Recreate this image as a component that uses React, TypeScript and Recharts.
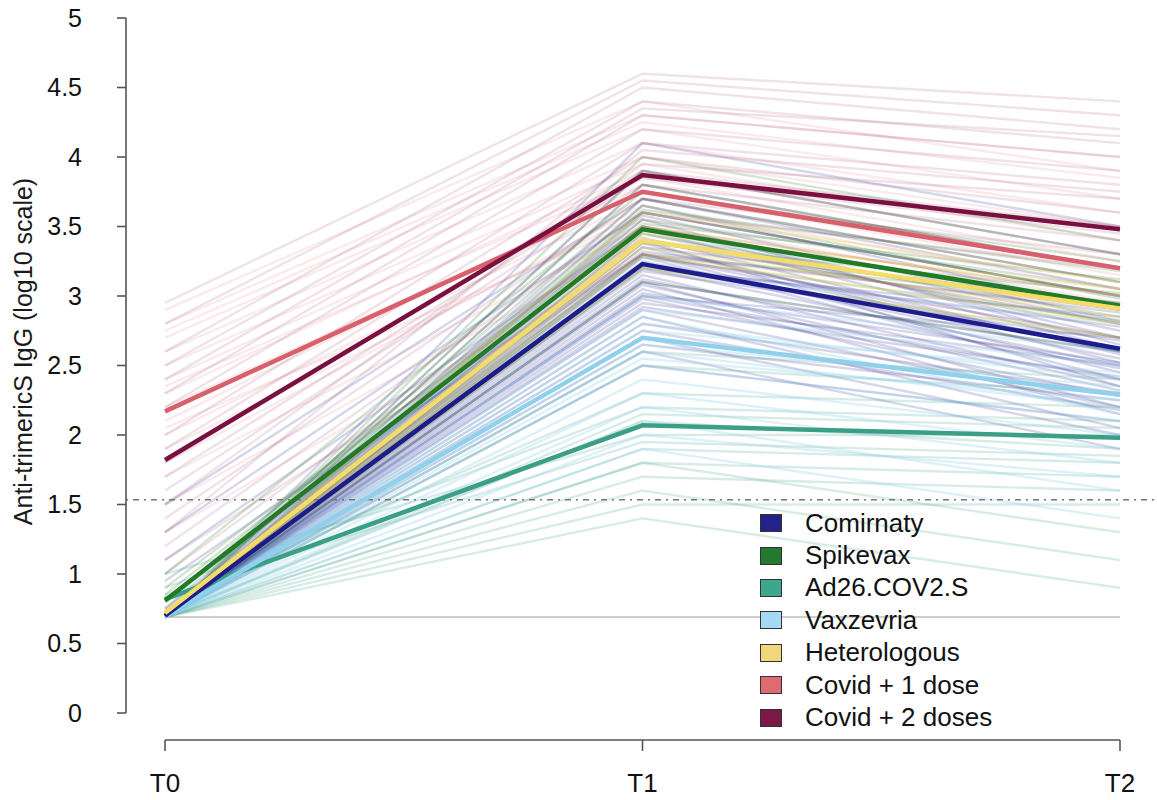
import React from "react";
import { LineChart, Line, XAxis, YAxis, ReferenceLine } from "recharts";

// time points and y ticks
const TIMES = ["T0", "T1", "T2"];
const Y_TICKS = [0, 0.5, 1, 1.5, 2, 2.5, 3, 3.5, 4, 4.5, 5];
const CUTOFF = 1.535;
const LOD = 0.69;

// group means [T0, T1, T2]
const GROUPS = ["Comirnaty", "Spikevax", "Ad26.COV2.S", "Vaxzevria", "Heterologous", "Covid + 1 dose", "Covid + 2 doses"];
const GROUP_MEANS = [
  [0.7, 3.23, 2.62],
  [0.81, 3.48, 2.93],
  [0.82, 2.07, 1.98],
  [0.7, 2.7, 2.29],
  [0.72, 3.4, 2.91],
  [2.17, 3.75, 3.2],
  [1.82, 3.87, 3.48],
];
const LINE_COLORS = ["#1c1c8c", "#217a25", "#3a9f85", "#8fd0ec", "#f5dc6a", "#d8606c", "#7a1040"];
const SWATCH_COLORS = ["#22228a", "#237a2f", "#3ea68a", "#a6daf4", "#f0d77a", "#e06a70", "#7d1745"];

// individual subjects, read roughly off the spaghetti [T0, T1, T2]
const comirnatySubjects = [
  [0.69, 3.6, 3.0], [0.69, 3.5, 2.8], [0.69, 3.4, 2.9], [0.69, 3.3, 2.7], [0.69, 3.2, 2.5],
  [0.69, 3.1, 2.6], [0.69, 3.0, 2.4], [0.69, 2.9, 2.2], [0.69, 3.25, 2.55], [0.69, 3.15, 2.35],
  [0.69, 3.45, 2.75], [0.69, 3.35, 2.95], [0.69, 3.05, 2.15], [0.69, 2.8, 2.3], [0.69, 2.7, 2.0],
  [0.69, 3.7, 3.1], [0.69, 3.8, 3.2], [0.69, 2.6, 1.9], [0.69, 3.55, 2.65], [0.69, 3.0, 2.7],
  [0.75, 3.3, 2.45], [0.69, 2.95, 2.5], [0.69, 3.4, 2.35], [0.69, 3.2, 2.85], [0.69, 2.5, 2.1],
  [0.69, 3.9, 3.3], [0.69, 3.1, 2.2], [0.69, 3.35, 2.6], [0.69, 2.85, 2.05], [0.69, 3.65, 2.9],
  [0.69, 3.28, 2.4], [0.69, 3.12, 2.48], [0.69, 2.98, 2.28], [0.69, 3.48, 2.62], [0.69, 3.22, 2.78],
  [0.69, 3.38, 2.52], [0.69, 3.08, 2.32], [0.69, 2.92, 2.42], [0.69, 3.18, 2.68], [0.69, 3.58, 2.82],
  [0.8, 3.42, 2.58], [0.69, 2.75, 2.18], [0.69, 3.32, 2.88], [0.69, 3.02, 2.52], [0.69, 2.65, 2.25],
  [1.1, 3.5, 2.7], [1.3, 3.6, 3.0], [0.95, 3.3, 2.6], [1.5, 3.7, 3.05], [0.69, 4.1, 3.5],
];
const spikevaxSubjects = [
  [0.69, 3.9, 3.3], [0.8, 3.7, 3.1], [0.69, 3.6, 3.0], [0.9, 3.5, 2.9], [0.69, 3.4, 2.8],
  [0.69, 3.3, 2.95], [0.7, 3.8, 3.2], [0.69, 3.2, 2.7], [0.85, 3.55, 3.05], [0.69, 4.0, 3.4],
  [0.69, 3.45, 2.85], [0.69, 3.1, 2.6], [0.69, 3.52, 3.12], [0.75, 3.65, 2.98], [0.69, 3.38, 3.02],
  [0.69, 3.62, 3.18], [0.69, 3.28, 2.82], [1.0, 3.75, 3.25],
];
const ad26Subjects = [
  [0.69, 2.5, 2.3], [0.9, 2.2, 2.1], [0.69, 1.9, 1.8], [1.0, 2.0, 2.0], [0.69, 1.7, 1.6],
  [0.8, 2.3, 2.2], [0.69, 1.5, 1.5], [0.7, 2.1, 1.9], [0.69, 1.8, 1.7], [0.69, 2.6, 2.4],
  [0.69, 1.4, 0.9], [0.69, 1.6, 1.1], [0.69, 1.8, 1.3], [0.69, 2.15, 2.05], [0.85, 1.95, 1.85],
];
const vaxzevriaSubjects = [
  [0.69, 3.0, 2.6], [0.69, 2.8, 2.4], [0.69, 2.6, 2.2], [0.69, 2.4, 2.0], [0.69, 2.2, 1.8],
  [0.69, 2.9, 2.5], [0.69, 2.7, 2.3], [0.69, 3.2, 2.8], [0.69, 2.5, 2.1], [0.69, 2.0, 1.7],
  [0.69, 2.75, 2.45], [0.69, 2.3, 1.9], [0.69, 2.65, 2.35], [0.69, 2.85, 2.15], [0.69, 2.55, 2.25],
  [0.69, 1.9, 1.4], [0.69, 2.1, 1.6],
];
const heterologousSubjects = [
  [0.69, 3.6, 3.1], [0.69, 3.3, 2.8], [0.8, 3.5, 3.0], [0.69, 3.2, 2.7], [0.69, 3.4, 2.9],
  [0.69, 3.45, 3.05], [0.69, 3.35, 2.85],
];
const covid1Subjects = [
  [2.9, 4.4, 3.9], [2.7, 4.2, 3.7], [2.5, 4.0, 3.5], [2.3, 3.9, 3.3], [2.1, 3.8, 3.2],
  [1.9, 3.6, 3.0], [1.7, 3.5, 2.9], [2.6, 4.1, 3.6], [2.0, 3.7, 3.1], [1.5, 3.4, 2.8],
  [2.8, 4.3, 4.0], [2.2, 3.75, 3.15], [1.3, 3.3, 2.7], [2.4, 3.95, 3.4], [2.75, 4.25, 3.85],
  [2.35, 3.85, 3.25], [1.8, 3.65, 3.05], [2.05, 3.55, 2.95],
];
const covid2Subjects = [
  [2.95, 4.6, 4.4], [2.6, 4.5, 4.2], [2.3, 4.3, 4.0], [2.0, 4.1, 3.8], [1.8, 3.9, 3.5],
  [1.6, 3.8, 3.4], [1.4, 3.7, 3.3], [1.2, 3.6, 3.2], [1.0, 3.5, 3.0], [2.2, 4.2, 3.9],
  [1.9, 4.0, 3.6], [2.5, 4.4, 4.1], [1.1, 3.3, 2.9], [1.7, 3.85, 3.45], [2.8, 4.55, 4.3],
  [2.4, 4.35, 4.15], [1.5, 3.95, 3.7], [1.3, 4.05, 3.75],
];
const SUBJECTS = [comirnatySubjects, spikevaxSubjects, ad26Subjects, vaxzevriaSubjects, heterologousSubjects, covid1Subjects, covid2Subjects];
const SUBJECT_OPACITY = [0.18, 0.2, 0.2, 0.3, 0.35, 0.13, 0.12];

const FONT = "'Liberation Sans', Arial, sans-serif";
const toSeries = (vals: number[]) => vals.map((v, t) => ({ t, v }));
const MEAN_ORDER = [2, 3, 0, 1, 4, 5, 6];

const XTick = ({ x, y, payload }: any) => (
  <g>
    <line x1={x} x2={x} y1={y + 27} y2={y + 38} stroke="#555" strokeWidth={1.6} />
    <text x={x} y={y + 79} textAnchor="middle" fontSize={26} fill="#111" fontFamily={FONT}>
      {TIMES[payload.value]}
    </text>
  </g>
);

const YLabel = ({ viewBox }: any) => {
  const cx = viewBox.x + 23;
  const cy = viewBox.y + viewBox.height / 2 - 14;
  return (
    <text x={cx} y={cy} transform={`rotate(-90 ${cx} ${cy})`} textAnchor="middle" dominantBaseline="central"
      fontSize={25} fill="#1a1a1a" fontFamily={FONT}>
      Anti-trimericS IgG (log10 scale)
    </text>
  );
};

const GroupLegend = () => (
  <div style={{ position: "absolute", left: 760, top: 507, fontFamily: FONT, fontSize: 26, color: "#111" }}>
    {GROUPS.map((g, i) => (
      <div key={g} style={{ display: "flex", alignItems: "center", height: 32.4 }}>
        <span style={{ width: 20, height: 16, background: SWATCH_COLORS[i], border: "1px solid #333", marginRight: 23 }} />
        <span>{g}</span>
      </div>
    ))}
  </div>
);

export default function App() {
  return (
    <div style={{ position: "absolute", left: 0, top: 0, width: 1157, height: 800, background: "#fff" }}>
      <LineChart width={1157} height={800} margin={{ top: 18, right: 0, bottom: 0, left: 0 }}>
        <XAxis type="number" dataKey="t" domain={[0, 2]} ticks={[0, 1, 2]} padding={{ left: 39, right: 37 }}
          height={87} axisLine={false} tickLine={false} tickSize={0} tickMargin={0} tick={<XTick />} />
        <YAxis type="number" domain={[0, 5]} ticks={Y_TICKS} width={126} tickSize={9} tickMargin={35}
          axisLine={{ stroke: "#555", strokeWidth: 1.6 }} tickLine={{ stroke: "#555", strokeWidth: 1.6 }}
          tick={{ fontSize: 25, fill: "#111", fontFamily: FONT }} label={<YLabel />} />
        <ReferenceLine segment={[{ x: 0, y: -0.1945 }, { x: 2, y: -0.1945 }]} stroke="#555" strokeWidth={1.6} ifOverflow="visible" />
        <ReferenceLine segment={[{ x: 0, y: LOD }, { x: 2, y: LOD }]} stroke="#cfcfcf" strokeWidth={2} />
        {SUBJECTS.map((list, gi) =>
          list.map((s, si) => (
            <Line key={`s-${gi}-${si}`} data={toSeries(s)} dataKey="v" stroke={LINE_COLORS[gi]} strokeOpacity={SUBJECT_OPACITY[gi]}
              strokeWidth={2.4} dot={false} activeDot={false} legendType="none" isAnimationActive={false} />
          ))
        )}
        <ReferenceLine y={CUTOFF} stroke="#777" strokeWidth={1.5} strokeDasharray="2 5 6 5" />
        {MEAN_ORDER.map((gi) => (
          <Line key={GROUPS[gi]} data={toSeries(GROUP_MEANS[gi])} dataKey="v" name={GROUPS[gi]} stroke={LINE_COLORS[gi]}
            strokeWidth={4.5} dot={false} activeDot={false} isAnimationActive={false} />
        ))}
      </LineChart>
      <GroupLegend />
    </div>
  );
}
